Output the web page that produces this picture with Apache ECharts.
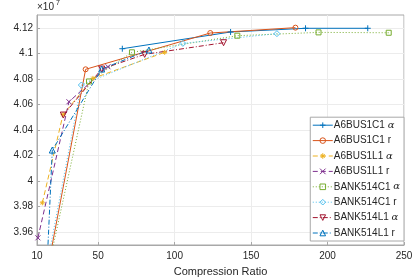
<!DOCTYPE html>
<html><head><meta charset="utf-8">
<script src="https://cdn.jsdelivr.net/npm/echarts@6/dist/echarts.min.js"></script>
<style>html,body{margin:0;padding:0;background:#fff}#c{width:415px;height:277px}</style>
</head><body><div id="c"></div>
<script>
// Values in units of 1e7
const seriesNames = ['A6BUS1C1 α','A6BUS1C1 r','A6BUS1L1 α','A6BUS1L1 r','BANK514C1 α','BANK514C1 r','BANK514L1 α','BANK514L1 r'];
const A6BUS1C1_alpha = [[65.8,4.1036],[136.6,4.1167],[185.6,4.1196],[226.3,4.1196]];
const A6BUS1C1_r = [[15,3.919],[41.8,4.0875],[123.3,4.1159],[179,4.1201]];
const A6BUS1L1_alpha = [[13.5,3.983],[27,4.052],[46.6,4.0804],[93.5,4.1008]];
const A6BUS1L1_r = [[10.6,3.9556],[30.9,4.0621],[56.4,4.0895]];
const BANK514C1_alpha = [[15.6,3.922],[44,4.078],[72.1,4.1008],[141,4.1138],[194.1,4.1164],[240,4.1161]];
const BANK514C1_r = [[15,3.925],[39,4.0752],[105.4,4.1078],[166.9,4.1154]];
const BANK514L1_alpha = [[27.2,4.0517],[52.3,4.0877],[80.4,4.0992],[132,4.1083]];
const BANK514L1_r = [[16,3.919],[20,4.0243],[52.3,4.0877],[83.2,4.1026]];
const xTicks = [10,50,100,150,200,250];
const yTicks = [3.96,3.98,4.00,4.02,4.04,4.06,4.08,4.10,4.12];

const data = [A6BUS1C1_alpha,A6BUS1C1_r,A6BUS1L1_alpha,A6BUS1L1_r,BANK514C1_alpha,BANK514C1_r,BANK514L1_alpha,BANK514L1_r];
const colors = ['#0072BD','#D95319','#EDB120','#7E2F8E','#77AC30','#4DBEEE','#A2142F','#0072BD'];
const dashes = ['solid','solid',[5,3],[5,3],[1,2],[1,2],[5,2,1,2],[5,2,1,2]];
const symbols = ['path://M0,-1V1M-1,0H1','circle','path://M0,-1V1M-1,0H1M-0.7,-0.7L0.7,0.7M-0.7,0.7L0.7,-0.7','path://M-1,-1L1,1M-1,1L1,-1','rect','diamond','path://M-1,-0.8L1,-0.8L0,1Z','triangle'];
const sizes = [6,5,5,5,5,6,6,6];

const chart = echarts.init(document.getElementById('c'), null, {renderer:'canvas'});
const series = data.map((d,i)=>({
  name: seriesNames[i], type:'line', data:d, symbol:symbols[i], symbolSize:sizes[i],
  showAllSymbol:true, clip:true, animation:false,
  lineStyle:{color:colors[i], width:1, type:dashes[i]},
  itemStyle:{color:'rgba(255,255,255,0)', borderColor:colors[i], borderWidth:1},
  emphasis:{disabled:true}
}));
chart.setOption({
  animation:false,
  grid:{left:37,right:11,top:15,bottom:32,containLabel:false,outerBoundsMode:'none',show:true,borderColor:'#a8a8a8',borderWidth:1},
  xAxis:{type:'value',min:10,max:250,name:'Compression Ratio',nameLocation:'middle',nameGap:21,
    nameTextStyle:{fontFamily:'Liberation Sans',fontSize:11,color:'#262626'},
    axisLine:{show:true,lineStyle:{color:'#a8a8a8'}},
    axisTick:{show:true,inside:true,length:3,customValues:xTicks,lineStyle:{color:'#a8a8a8'}},
    axisLabel:{customValues:xTicks,fontFamily:'Liberation Sans',fontSize:10,color:'#262626',margin:6},
    splitLine:{show:true,lineStyle:{color:'#ececec',width:1}}},
  yAxis:{type:'value',min:3.95,max:4.13,
    name:'#1',nameLocation:'middle',nameGap:25,nameRotate:90,
    nameTextStyle:{fontFamily:'Liberation Sans',fontSize:11,color:'#262626'},
    axisLine:{show:true,lineStyle:{color:'#a8a8a8'}},
    axisTick:{show:true,inside:true,length:3,customValues:yTicks,lineStyle:{color:'#a8a8a8'}},
    axisLabel:{customValues:yTicks,fontFamily:'Liberation Sans',fontSize:10,color:'#262626',margin:4,
      formatter:v=>String(parseFloat(Number(v).toFixed(2)))},
    splitLine:{show:true,lineStyle:{color:'#ececec',width:1}}},
  legend:{show:true,orient:'vertical',right:11,bottom:36,itemGap:5.4,itemWidth:20,itemHeight:7,
    itemStyle:{borderWidth:1},
    lineStyle:{width:1},
    backgroundColor:'#fff',borderColor:'#a8a8a8',borderWidth:1,padding:[3,4,3,2],
    formatter:n=>n.replace('α','{a|α}'),
    textStyle:{fontFamily:'Liberation Sans',fontSize:10,color:'#262626',padding:[0,0,0,-4],
      rich:{a:{fontFamily:'DejaVu Serif',fontStyle:'italic',fontSize:10,color:'#262626'}}},
    data:seriesNames.map((n,i)=>({name:n,itemStyle:{color:'rgba(255,255,255,0)',borderColor:colors[i],borderWidth:1},lineStyle:{width:1}}))},
  graphic:[{type:'text',left:37,top:2,style:{text:'×10',fontFamily:'Liberation Sans',fontSize:10,fill:'#262626'}},
           {type:'text',left:56,top:0,style:{text:'7',fontFamily:'Liberation Sans',fontSize:7,fill:'#262626'}}],
  series:series
});
</script></body></html>
